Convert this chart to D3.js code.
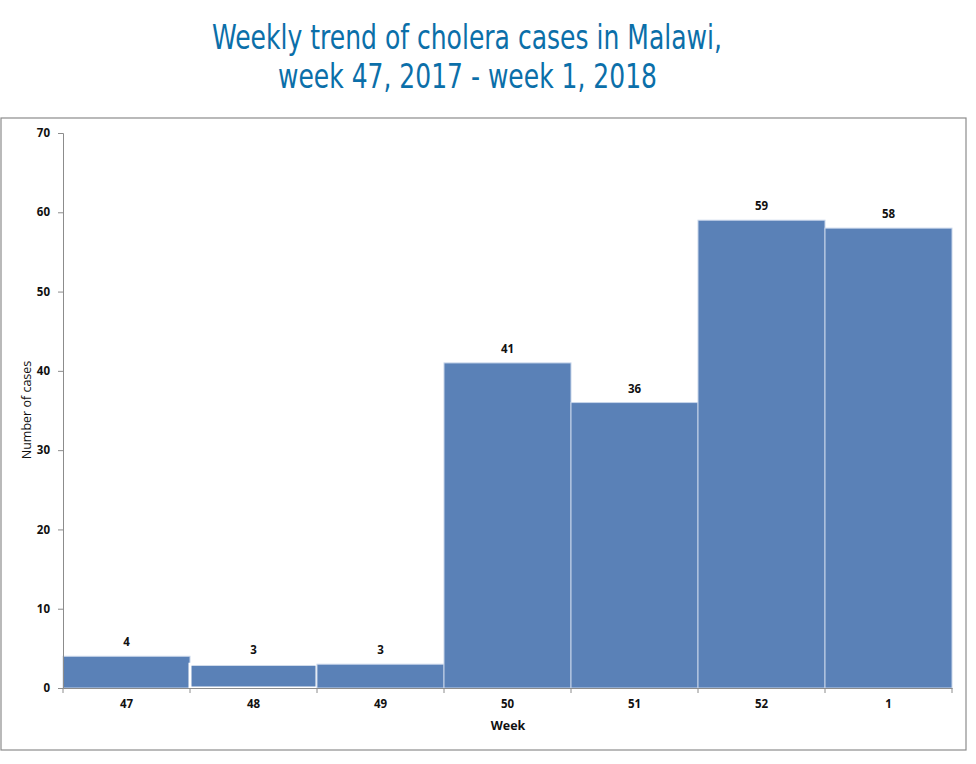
<!DOCTYPE html>
<html><head><meta charset="utf-8">
<script src="https://cdn.jsdelivr.net/npm/d3@7"></script>
<style>body{margin:0;background:#fff}svg{display:block}</style>
</head><body>
<script>
const weeks = ["47","48","49","50","51","52","1"];
const cases = [4,3,3,41,36,59,58];
const yTicks = [0,10,20,30,40,50,60,70];
const titleLines = ["Weekly trend of cholera cases in Malawi,","week 47, 2017 - week 1, 2018"];

const W=976,H=764;
const svg=d3.select("body").append("svg").attr("width",W).attr("height",H);

// title
const tf = "'Liberation Sans Narrow','DejaVu Sans Condensed','Roboto Condensed',Roboto,sans-serif";
const tl=[{t:titleLines[0],y:49,x0:212,w:510},{t:titleLines[1],y:88,x0:278,w:379}];
svg.selectAll("text.title").data(tl).enter().append("text").attr("class","title")
  .attr("x",d=>d.x0).attr("y",d=>d.y).text(d=>d.t)
  .attr("textLength",d=>d.w).attr("lengthAdjust","spacingAndGlyphs")
  .style("font-family",tf).style("font-size","34px").style("font-stretch","condensed").style("fill","#0b6fa9");

// frame
svg.append("rect").attr("x",1).attr("y",118).attr("width",965).attr("height",632)
  .attr("fill","none").attr("stroke","#8c8c8c").attr("stroke-width",1.2);

const x=d3.scaleBand().domain(weeks).range([63,952]).padding(0);
const y=d3.scaleLinear().domain([0,70]).range([688,133]);

const lf="'Open Sans','Liberation Sans',sans-serif";
// bars
svg.selectAll("rect.bar").data(cases).enter().append("rect").attr("class","bar")
  .attr("x",(d,i)=>x(weeks[i])).attr("width",x.bandwidth())
  .attr("y",d=>y(d)).attr("height",d=>y(0)-y(d))
  .attr("fill","#5a81b7")
  .attr("stroke",(d,i)=>i===1?"#ffffff":"#c7d5ea")
  .attr("stroke-width",(d,i)=>i===1?3:1);

// labels
svg.selectAll("text.lab").data(cases).enter().append("text").attr("class","lab")
  .attr("x",(d,i)=>x(weeks[i])+x.bandwidth()/2).attr("y",d=>y(d)-10)
  .attr("text-anchor","middle").text(d=>d)
  .style("font-family",lf).style("font-weight","bold").style("font-size","11.5px").style("fill","#111");

// y axis
const ya=svg.append("g").attr("transform","translate(63,0)")
  .call(d3.axisLeft(y).tickValues(yTicks).tickSize(5).tickPadding(8));
ya.select(".domain").attr("stroke","#8c8c8c");
ya.selectAll(".tick line").attr("stroke","#8c8c8c");
ya.selectAll("text").style("font-family",lf).style("font-weight","bold").style("font-size","11.5px").style("fill","#111");

// x axis
const xa=svg.append("g").attr("transform","translate(0,688)")
  .call(d3.axisBottom(x).tickSize(0).tickPadding(12));
xa.select(".domain").attr("stroke","#8c8c8c");
xa.selectAll("text").style("font-family",lf).style("font-weight","bold").style("font-size","11.5px").style("fill","#111");
// boundary ticks
const bounds=weeks.map(w=>x(w)).concat([x(weeks[weeks.length-1])+x.bandwidth()]);
svg.selectAll("line.bt").data(bounds).enter().append("line").attr("class","bt")
  .attr("x1",d=>d).attr("x2",d=>d).attr("y1",688).attr("y2",693).attr("stroke","#8c8c8c");

// axis titles
svg.append("text").attr("x",508).attr("y",730).attr("text-anchor","middle").text("Week")
  .style("font-family",lf).style("font-weight","bold").style("font-size","12.5px").style("fill","#111");
svg.append("text").attr("transform","translate(31,410) rotate(-90)").attr("text-anchor","middle").text("Number of cases")
  .style("font-family",lf).style("font-size","12.5px").style("fill","#111");
</script>
</body></html>
